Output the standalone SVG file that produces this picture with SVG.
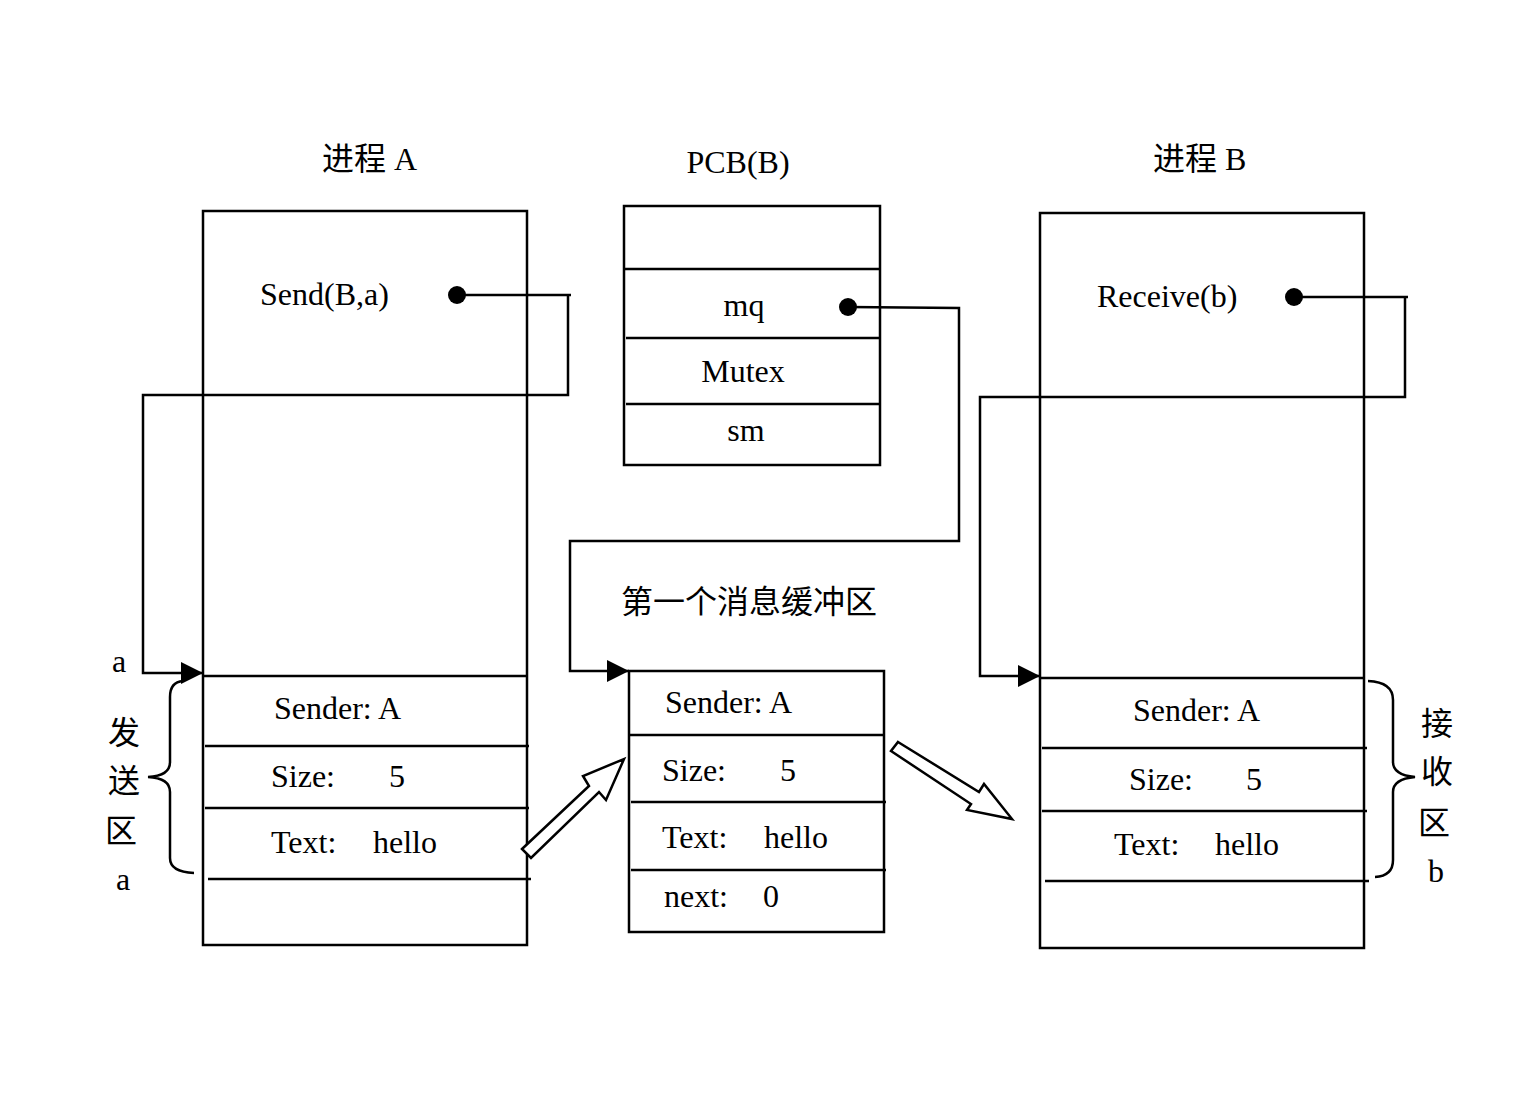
<svg xmlns="http://www.w3.org/2000/svg" width="1536" height="1101" viewBox="0 0 1536 1101">
<style>
.box{fill:none;stroke:#000;stroke-width:2.5}
.ln{stroke:#000;stroke-width:2.5;fill:none}
.cn{stroke:#000;stroke-width:2.5;fill:none}
.t{font-family:"Liberation Serif","Noto Sans CJK SC",serif;font-size:32px;fill:#000}
.c{text-anchor:middle}
.hollow{fill:#fff;stroke:#000;stroke-width:2.5;stroke-linejoin:miter}
.dot{fill:#000}
</style>
<defs>
<marker id="ah" markerUnits="userSpaceOnUse" markerWidth="24" markerHeight="22" refX="22" refY="11" orient="auto">
<path d="M0,0 L22,11 L0,22 Z" fill="#000"/>
</marker>
</defs>
<rect width="1536" height="1101" fill="#fff"/>

<g id="procA">
<rect class="box" x="203" y="211" width="324" height="734"/>
<line class="ln" x1="203" y1="676" x2="527" y2="676"/>
<line class="ln" x1="205" y1="746" x2="529" y2="746"/>
<line class="ln" x1="205" y1="808" x2="529" y2="808"/>
<line class="ln" x1="208" y1="879" x2="531" y2="879"/>
<text class="t" x="322" y="170">进程 A</text>
<text class="t" x="260" y="305">Send(B,a)</text>
<circle class="dot" cx="457" cy="295" r="9"/>
<text class="t" x="274" y="719">Sender: A</text>
<text class="t" x="271" y="787">Size:</text>
<text class="t" x="389" y="787">5</text>
<text class="t" x="271" y="853">Text:</text>
<text class="t" x="373" y="853">hello</text>
</g>

<g id="sendArea">
<text class="t" x="112" y="672">a</text>
<text class="t" x="116" y="890">a</text>
<text class="t" x="108" y="744">发</text>
<text class="t" x="108" y="792">送</text>
<text class="t" x="105" y="842">区</text>
<path class="ln" d="M183 681 Q170 682 170 697 L170 762 Q170 776 148 777 Q170 778 170 792 L170 858 Q170 872 194 873"/>
</g>

<g id="pcbB">
<rect class="box" x="624" y="206" width="256" height="259"/>
<line class="ln" x1="624" y1="269" x2="880" y2="269"/>
<line class="ln" x1="626" y1="338" x2="880" y2="338"/>
<line class="ln" x1="626" y1="404" x2="880" y2="404"/>
<text class="t c" x="738" y="173">PCB(B)</text>
<text class="t c" x="744" y="316">mq</text>
<circle class="dot" cx="848" cy="307" r="9"/>
<text class="t c" x="743" y="382">Mutex</text>
<text class="t c" x="746" y="441">sm</text>
</g>

<g id="msgBuf">
<text class="t" x="621" y="613">第一个消息缓冲区</text>
<rect class="box" x="629" y="671" width="255" height="261"/>
<line class="ln" x1="629" y1="735" x2="884" y2="735"/>
<line class="ln" x1="631" y1="802" x2="886" y2="802"/>
<line class="ln" x1="631" y1="870" x2="886" y2="870"/>
<text class="t" x="665" y="713">Sender: A</text>
<text class="t" x="662" y="781">Size:</text>
<text class="t" x="780" y="781">5</text>
<text class="t" x="662" y="848">Text:</text>
<text class="t" x="764" y="848">hello</text>
<text class="t" x="664" y="907">next:</text>
<text class="t" x="763" y="907">0</text>
</g>

<g id="procB">
<rect class="box" x="1040" y="213" width="324" height="735"/>
<line class="ln" x1="1040" y1="678" x2="1364" y2="678"/>
<line class="ln" x1="1042" y1="748" x2="1367" y2="748"/>
<line class="ln" x1="1042" y1="811" x2="1367" y2="811"/>
<line class="ln" x1="1045" y1="881" x2="1369" y2="881"/>
<text class="t" x="1153" y="170">进程 B</text>
<text class="t" x="1097" y="307">Receive(b)</text>
<circle class="dot" cx="1294" cy="297" r="9"/>
<text class="t" x="1133" y="721">Sender: A</text>
<text class="t" x="1129" y="790">Size:</text>
<text class="t" x="1246" y="790">5</text>
<text class="t" x="1114" y="855">Text:</text>
<text class="t" x="1215" y="855">hello</text>
</g>

<g id="recvArea">
<path class="ln" d="M1368 681 Q1393 682 1393 700 L1393 762 Q1393 775 1415 777 Q1393 779 1393 792 L1393 860 Q1393 876 1375 877"/>
<text class="t" x="1421" y="735">接</text>
<text class="t" x="1421" y="783">收</text>
<text class="t" x="1418" y="834">区</text>
<text class="t" x="1428" y="882">b</text>
</g>

<g id="connectors">
<path class="cn" d="M457 295 L571 295 M568 295 L568 395 L143 395 L143 673 L203 673" marker-end="url(#ah)"/>
<path class="cn" d="M848 307 L959 308 L959 541 L570 541 L570 671 L629 671" marker-end="url(#ah)"/>
<path class="cn" d="M1294 297 L1408 297 M1405 297 L1405 397 L980 397 L980 676 L1040 676" marker-end="url(#ah)"/>
<polygon class="hollow" points="522,849 589,786 583,776 624,759 606,800 599,792 531,858"/>
<polygon class="hollow" points="898,742 979,792 984,784 1012,819 967,810 971,804 891,751"/>
</g>
</svg>
